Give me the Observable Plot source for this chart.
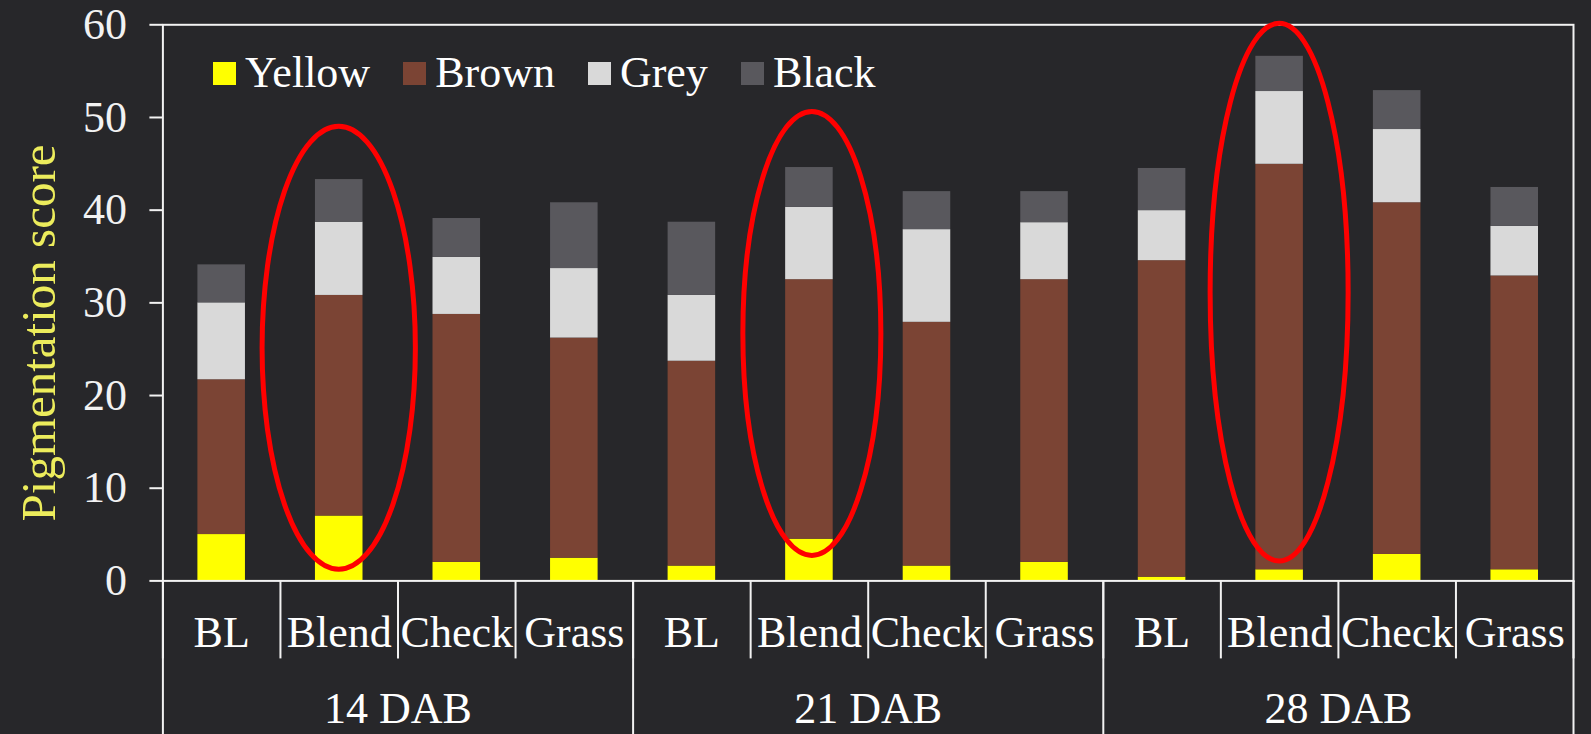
<!DOCTYPE html>
<html>
<head>
<meta charset="utf-8">
<script src="https://cdn.jsdelivr.net/npm/d3@7"></script>
<script src="https://cdn.jsdelivr.net/npm/@observablehq/plot@0.6"></script>
<style>
  html, body { margin: 0; padding: 0; background: #27272a; }
  #chart { position: relative; width: 1591px; height: 734px; overflow: hidden; }
  #legend { position: absolute; left: 213px; top: 51px; display: flex; align-items: center;
            font-family: "Liberation Serif", serif; font-size: 44px; line-height: 1; color: #ffffff; }
  #legend .item { display: flex; align-items: center; margin-right: 33px; }
  #legend .sw { width: 23px; height: 23px; margin-right: 9px; }
</style>
</head>
<body>
<div id="chart"><div id="legend"></div></div>
<script>
// ---- data ----
const groups = ["14 DAB", "21 DAB", "28 DAB"];
const treatments = ["BL", "Blend", "Check", "Grass"];
const seriesNames = ["Yellow", "Brown", "Grey", "Black"];
const seriesColors = ["#ffff00", "#7b4434", "#d9d9d9", "#59585d"];
// one value per bar, ordered group by group, treatment by treatment
const yellow = [5.0, 7.0, 2.0, 2.45, 1.6, 4.5, 1.6, 2.0, 0.4, 1.2, 2.85, 1.2];
const brown  = [16.7, 23.8, 26.75, 23.75, 22.1, 28.0, 26.3, 30.5, 34.15, 43.75, 37.95, 31.7];
const grey   = [8.3, 7.9, 6.15, 7.5, 7.1, 7.8, 10.0, 6.15, 5.4, 7.85, 7.9, 5.35];
const black  = [4.1, 4.6, 4.2, 7.1, 7.9, 4.3, 4.1, 3.35, 4.55, 3.8, 4.2, 4.2];
const yTicks = [0, 10, 20, 30, 40, 50, 60];
const yLabel = "Pigmentation score";
// red ellipse annotations (vertical extent in score units, half width in bar slots)
const highlightGroups = ["14 DAB", "21 DAB", "28 DAB"];
const highlightTreatments = ["Blend", "Blend", "Blend"];
const highlightTop = [49.0, 50.6, 60.1];
const highlightBottom = [1.2, 2.7, 2.1];
const highlightHalfWidth = [0.652, 0.587, 0.587];
const highlightShift = [0, 0.025, 0];

// ---- table built from the arrays ----
const seriesValues = [yellow, brown, grey, black];
const rows = [];
groups.forEach((g, gi) => treatments.forEach((t, ti) => {
  const i = gi * treatments.length + ti;
  seriesNames.forEach((s, si) => rows.push({group: g, treatment: t, x1: i, x2: i + 1, series: s, value: seriesValues[si][i]}));
}));
const nBars = groups.length * treatments.length;
const boundaries = d3.range(nBars + 1);
const groupEdges = d3.range(groups.length + 1).map(k => k * treatments.length);
const barCenters = d3.range(nBars).map(i => i + 0.5);
const groupCenters = groups.map((g, k) => (k + 0.5) * treatments.length);

const line = "#f2f2f2";
const plot = Plot.plot({
  width: 1591, height: 734,
  marginLeft: 162.4, marginRight: 18, marginTop: 24.3, marginBottom: 153.6,
  style: {background: "transparent", color: "#ffffff", fontFamily: '"Liberation Serif", serif', fontSize: "44px", overflow: "visible"},
  x: {domain: [0, nBars]},
  y: {domain: [0, 60]},
  color: {type: "ordinal", domain: seriesNames, range: seriesColors},
  marks: [
    Plot.rectY(rows, {x1: "x1", x2: "x2", y: "value", fill: {value: "series", scale: "color"}, insetLeft: 35, insetRight: 35}),
    Plot.frame({stroke: line, strokeWidth: 2}),
    Plot.axisY(yTicks, {tickSize: 13, tickPadding: 23, label: null, color: line, strokeWidth: 2}),
    Plot.axisX(boundaries, {tickSize: 78, tickFormat: () => "", label: null, color: line, strokeWidth: 2}),
    Plot.axisX(groupEdges, {tickSize: 154, tickFormat: () => "", label: null, color: line, strokeWidth: 2}),
    Plot.axisX(barCenters, {tickSize: 0, tickPadding: 35, label: null, color: "#ffffff",
      tickFormat: v => treatments[Math.floor(v) % treatments.length]}),
    Plot.axisX(groupCenters, {tickSize: 0, tickPadding: 111, label: null, color: "#ffffff",
      tickFormat: v => groups[Math.floor(v / treatments.length)]})
  ]
});

const svg = d3.select(plot);
const xs = plot.scale("x"), ys = plot.scale("y");
highlightGroups.forEach((g, k) => {
  const i = groups.indexOf(g) * treatments.length + treatments.indexOf(highlightTreatments[k]);
  const cx = xs.apply(i + 0.5 + highlightShift[k]);
  const left = xs.apply(i + 0.5 + highlightShift[k] - highlightHalfWidth[k]);
  const yT = ys.apply(highlightTop[k]), yB = ys.apply(highlightBottom[k]);
  svg.append("ellipse")
    .attr("cx", cx).attr("cy", (yT + yB) / 2)
    .attr("rx", cx - left).attr("ry", (yB - yT) / 2)
    .attr("fill", "none").attr("stroke", "#ff0000").attr("stroke-width", 5);
});
svg.append("text")
  .attr("transform", "translate(38,333) rotate(-90)")
  .attr("text-anchor", "middle").attr("dominant-baseline", "central")
  .attr("fill", "#ecec5c").style("font-size", "49px")
  .text(yLabel);

const chart = document.getElementById("chart");
chart.insertBefore(plot, chart.firstChild);

const legend = d3.select("#legend");
seriesNames.forEach((s, k) => {
  const item = legend.append("div").attr("class", "item");
  item.append("div").attr("class", "sw").style("background", seriesColors[k]);
  item.append("span").text(s);
});
</script>
</body>
</html>
